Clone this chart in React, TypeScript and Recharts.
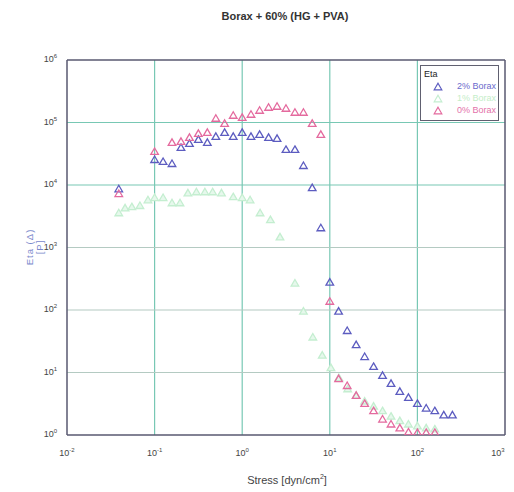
import React from "react";
import { ScatterChart, Scatter, XAxis, YAxis, ReferenceLine } from "recharts";

const xTicks = [0.01, 0.1, 1, 10, 100, 1000];
const yTicks = [1, 10, 100, 1000, 10000, 100000, 1000000];

const blueX = [0.039, 0.1, 0.125, 0.158, 0.2, 0.25, 0.316, 0.4, 0.5, 0.63, 0.79, 1.0, 1.26, 1.58, 2.0, 2.5, 3.16, 4.0, 5.0, 6.3, 7.9, 10, 12.6, 15.8, 20, 25, 31.6, 40, 50, 63, 79, 100, 126, 158, 200, 251];
const blueY = [8700, 25600, 23800, 22100, 39900, 46300, 53700, 48100, 60000, 69500, 60000, 69500, 60000, 64600, 57800, 55700, 37100, 37100, 20500, 9080, 2070, 280, 96, 47, 28, 18, 12.5, 9, 6.7, 5, 4, 3.2, 2.7, 2.45, 2.1, 2.1];

const greenX = [0.039, 0.046, 0.055, 0.068, 0.084, 0.1, 0.125, 0.158, 0.195, 0.24, 0.3, 0.375, 0.46, 0.58, 0.79, 1.0, 1.23, 1.6, 2.1, 2.7, 4.0, 5.0, 6.4, 8.2, 10.3, 12.7, 16, 20, 25, 31.6, 40, 50, 63, 79, 100, 126, 158];
const greenY = [3600, 4300, 4500, 4700, 5800, 6300, 6300, 5200, 5200, 7500, 7800, 7800, 7800, 7500, 6500, 6300, 5800, 3600, 2800, 1480, 270, 96, 37, 19, 12, 8.3, 5.5, 4.3, 3.5, 2.9, 2.45, 2.0, 1.7, 1.5, 1.4, 1.3, 1.25];

const pinkX = [0.039, 0.1, 0.158, 0.2, 0.25, 0.316, 0.4, 0.5, 0.63, 0.79, 1.0, 1.26, 1.58, 2.0, 2.5, 3.16, 4.0, 5.0, 6.3, 7.9, 10, 12.6, 15.8, 20, 25, 31.6, 40, 50, 63, 79, 100, 126, 158];
const pinkY = [7300, 34400, 48100, 49900, 57800, 67000, 69500, 117000, 97100, 130600, 121000, 135500, 157000, 175400, 182000, 169000, 146000, 146000, 97100, 64600, 138, 8.0, 6.2, 4.3, 3.2, 2.45, 1.8, 1.5, 1.3, 1.12, 1.1, 1.1, 1.1];

const seriesNames = ["2% Borax", "1% Borax", "0% Borax"];

const zip = (xs: number[], ys: number[]) => xs.map((x, i) => ({ x, y: ys[i] }));
const blueData = zip(blueX, blueY);
const greenData = zip(greenX, greenY);
const pinkData = zip(pinkX, pinkY);

const BLUE = "#5c5cc0";
const GREEN = "#c4eed0";
const PINK = "#e46a9e";
const TEAL = "#78c8b4";
const GRAYGRID = "#b4cac2";
const FRAME = "#585870";
const FONT = "'Liberation Sans', Arial, sans-serif";

const tri = (color: string, fill = "none") => (props: any) => {
  const { cx, cy } = props;
  if (cx == null || cy == null) return null;
  const d = `M${cx},${cy - 3.5} L${cx + 3.8},${cy + 3} L${cx - 3.8},${cy + 3} Z`;
  return <path d={d} fill={fill} stroke={color} strokeWidth={1.3} />;
};

const expOf = (v: number) => Math.round(Math.log10(v));

const XTick = (props: any) => {
  const { x, y, payload } = props;
  const e = expOf(payload.value);
  return (
    <text x={x} y={y + 13} textAnchor="middle" fontFamily={FONT} fontSize={9} fill="#444">
      10<tspan dy={-4} fontSize={6}>{e}</tspan>
    </text>
  );
};

const YTick = (props: any) => {
  const { x, y, payload } = props;
  const e = expOf(payload.value);
  return (
    <text x={x - 2} y={y + 2} textAnchor="end" fontFamily={FONT} fontSize={9} fill="#444">
      10<tspan dy={-4} fontSize={6}>{e}</tspan>
    </text>
  );
};

const legendItems = [
  { name: seriesNames[0], color: BLUE, text: "#6a6acc" },
  { name: seriesNames[1], color: GREEN, text: "#c4eec8" },
  { name: seriesNames[2], color: PINK, text: "#e472aa" },
];

export default function App() {
  return (
    <div style={{ position: "relative", width: 506, height: 484, fontFamily: FONT }}>
      <div
        style={{
          position: "absolute",
          left: 0,
          top: 2,
          width: 554,
          textAlign: "center",
          fontSize: 11,
          fontWeight: "bold",
          color: "#333",
        }}
      >
        Borax + 60% (HG + PVA)
      </div>
      <ScatterChart width={506} height={484} margin={{ top: 52, right: 9, left: 9, bottom: 27 }}>
        <XAxis
          type="number"
          dataKey="x"
          scale="log"
          domain={[0.01, 1000]}
          ticks={xTicks}
          allowDataOverflow
          height={30}
          tick={<XTick />}
          tickLine={false}
          axisLine={{ stroke: FRAME, strokeWidth: 1.5 }}
        />
        <YAxis
          type="number"
          dataKey="y"
          scale="log"
          domain={[1, 1000000]}
          ticks={yTicks}
          allowDataOverflow
          width={50}
          tick={<YTick />}
          tickLine={false}
          axisLine={{ stroke: FRAME, strokeWidth: 1.5 }}
        />
        {[0.1, 1, 10, 100].map((v) => (
          <ReferenceLine key={"vx" + v} x={v} stroke={TEAL} strokeWidth={1.2} />
        ))}
        {[100000, 10000].map((v) => (
          <ReferenceLine key={"hy" + v} y={v} stroke={TEAL} strokeWidth={1.2} />
        ))}
        {[1000, 100, 10].map((v) => (
          <ReferenceLine key={"gy" + v} y={v} stroke={GRAYGRID} strokeWidth={1.2} />
        ))}
        <ReferenceLine y={1000000} stroke={FRAME} strokeWidth={1.5} />
        <ReferenceLine x={1000} stroke={FRAME} strokeWidth={1.5} />
        <Scatter name={seriesNames[1]} data={greenData} shape={tri(GREEN, "#e6f8ec")} isAnimationActive={false} />
        <Scatter name={seriesNames[0]} data={blueData} shape={tri(BLUE)} isAnimationActive={false} />
        <Scatter name={seriesNames[2]} data={pinkData} shape={tri(PINK)} isAnimationActive={false} />
      </ScatterChart>
      <div
        style={{
          position: "absolute",
          left: 0,
          top: 206,
          width: 60,
          height: 70,
          pointerEvents: "none",
        }}
      >
        <svg width={60} height={70}>
          <text
            transform="translate(25,33) rotate(-90)"
            textAnchor="middle"
            fontFamily={FONT}
            fontSize={9.5}
            letterSpacing={1}
            fill="#7a88cc"
          >
            Eta (Δ)
          </text>
          <text
            transform="translate(35,33) rotate(-90)"
            textAnchor="middle"
            fontFamily={FONT}
            fontSize={9.5}
            letterSpacing={1}
            fill="#7a88cc"
          >
            [P]
          </text>
        </svg>
      </div>
      <div
        style={{
          position: "absolute",
          left: 0,
          top: 465,
          width: 558,
          textAlign: "center",
          fontSize: 11,
          color: "#444",
        }}
      >
        Stress [dyn/cm<sup style={{ fontSize: 7 }}>2</sup>]
      </div>
      <div
        style={{
          position: "absolute",
          left: 412,
          top: 57,
          width: 79,
          height: 56,
          border: "1.5px solid #606070",
          background: "#fff",
          fontSize: 9,
          boxSizing: "border-box",
        }}
      >
        <div style={{ position: "absolute", left: 3, top: 3, color: "#222" }}>Eta</div>
        {legendItems.map((it, i) => (
          <div
            key={it.name}
            style={{ position: "absolute", left: 12, top: 15 + i * 12, display: "flex", alignItems: "center" }}
          >
            <svg width={10} height={9}>
              <path d="M5,1.2 L8.8,7.8 L1.2,7.8 Z" fill="none" stroke={it.color} strokeWidth={1.2} />
            </svg>
            <span style={{ marginLeft: 14, color: it.text }}>{it.name}</span>
          </div>
        ))}
      </div>
    </div>
  );
}
